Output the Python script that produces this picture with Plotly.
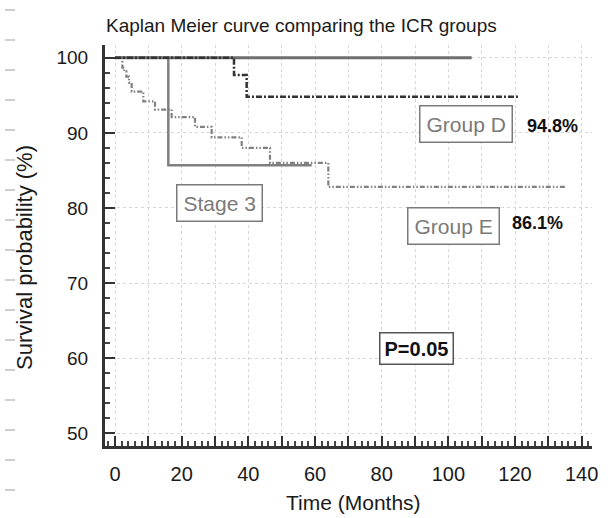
import plotly.graph_objects as go

# ---------------- data ----------------
top_time = [0, 107]
top_surv = [100, 100]

stage3_time = [0, 16, 59]
stage3_surv = [100, 85.7, 85.7]

groupD_time = [0, 35.7, 39.5, 121]
groupD_surv = [100, 97.7, 94.8, 94.8]

groupE_time = [0, 2.2, 2.8, 3.4, 4.2, 5, 8.5, 12, 17, 24, 29, 38, 46.5, 64, 135.5]
groupE_surv = [100, 98.7, 98.2, 97.5, 96.7, 95.5, 94.2, 93.1, 92.1, 90.8, 89.4, 88.0, 86.0, 82.8, 82.8]

x_tickvals = [0, 10, 20, 30, 40, 50, 60, 70, 80, 90, 100, 110, 120, 130, 140]
x_ticktext = ["0", "", "20", "", "40", "", "60", "", "80", "", "100", "", "120", "", "140"]
y_tickvals = [50, 60, 70, 80, 90, 100]

title_text = "Kaplan Meier curve comparing the ICR groups"
x_title = "Time (Months)"
y_title = "Survival probability (%)"

# ---------------- figure ----------------
fig = go.Figure()

fig.add_trace(go.Scatter(x=groupE_time, y=groupE_surv, mode="lines", line_shape="hv",
                         name="Group E",
                         line=dict(color="#808080", width=2.2, dash="5px,2px,1.5px,2px,1.5px,2px")))
fig.add_trace(go.Scatter(x=stage3_time, y=stage3_surv, mode="lines", line_shape="hv",
                         name="Stage 3", line=dict(color="#808080", width=2.5)))
fig.add_trace(go.Scatter(x=top_time, y=top_surv, mode="lines", line_shape="hv",
                         name="Other", line=dict(color="#6e6e6e", width=3)))
fig.add_trace(go.Scatter(x=groupD_time, y=groupD_surv, mode="lines", line_shape="hv",
                         name="Group D",
                         line=dict(color="#333333", width=2.5, dash="6px,2px,2px,2px")))

font_main = "Liberation Sans, Arial, sans-serif"
font_narrow = "Liberation Sans Narrow, Arial Narrow, Liberation Sans, Arial, sans-serif"

fig.update_layout(
    width=610, height=518,
    margin=dict(l=105, r=18, t=45, b=72),
    paper_bgcolor="white", plot_bgcolor="white",
    showlegend=False,
    font=dict(family=font_main, color="#1a1a1a"),
)

fig.update_xaxes(
    range=[-3, 143.1],
    tickmode="array", tickvals=x_tickvals, ticktext=x_ticktext,
    ticks="inside", ticklen=10, tickwidth=2, tickcolor="#333",
    minor=dict(dtick=2, ticks="inside", ticklen=5, tickwidth=1.5, tickcolor="#444", showgrid=False),
    showline=True, linecolor="#333", linewidth=3,
    showgrid=True, gridcolor="#d6d6d6", gridwidth=1, griddash="dot",
    zeroline=False,
    tickfont=dict(size=20, color="#1a1a1a"),
    ticklabelstandoff=8,
)
fig.update_yaxes(
    range=[48.3, 101.7],
    tickmode="array", tickvals=y_tickvals,
    ticks="inside", ticklen=10, tickwidth=2, tickcolor="#333",
    minor=dict(dtick=2, ticks="inside", ticklen=5, tickwidth=1.5, tickcolor="#444", showgrid=False),
    showline=True, linecolor="#333", linewidth=3,
    showgrid=True, gridcolor="#d6d6d6", gridwidth=1, griddash="dot",
    zeroline=False,
    tickfont=dict(size=19, color="#1a1a1a"),
    ticklabelstandoff=10,
)

annotations = [
    dict(text=title_text, xref="paper", yref="paper", x=(301 - 105) / 487, y=1 + (45 - 25) / 401,
         xanchor="center", yanchor="middle", showarrow=False, font=dict(size=19, color="#1a1a1a")),
    dict(text=x_title, xref="paper", yref="paper", x=(353 - 105) / 487, y=-(503 - 446) / 401,
         xanchor="center", yanchor="middle", showarrow=False, font=dict(size=21, color="#1a1a1a")),
    dict(text=y_title, xref="paper", yref="paper", x=-(105 - 24) / 487, y=(446 - 258) / 401,
         xanchor="center", yanchor="middle", showarrow=False, textangle=-90,
         font=dict(size=22, color="#1a1a1a")),
    dict(text="Stage 3", x=31.2, y=80.6, xanchor="center", yanchor="middle", showarrow=False,
         font=dict(size=21, color="#7a7a7a"), bordercolor="#7a7a7a", borderwidth=1.5, borderpad=6,
         bgcolor="white"),
    dict(text="Group D", x=105.2, y=91.2, xanchor="center", yanchor="middle", showarrow=False,
         font=dict(size=21, color="#7a7a7a"), bordercolor="#7a7a7a", borderwidth=1.5, borderpad=6,
         bgcolor="white"),
    dict(text="Group E", x=101.6, y=77.6, xanchor="center", yanchor="middle", showarrow=False,
         font=dict(size=21, color="#7a7a7a"), bordercolor="#7a7a7a", borderwidth=1.5, borderpad=6,
         bgcolor="white"),
    dict(text="<b>94.8%</b>", x=131.1, y=90.9, xanchor="center", yanchor="middle", showarrow=False,
         font=dict(size=18, color="#111", family=font_narrow)),
    dict(text="<b>86.1%</b>", x=126.6, y=78.0, xanchor="center", yanchor="middle", showarrow=False,
         font=dict(size=18, color="#111", family=font_narrow)),
    dict(text="<b>P=0.05</b>", x=90.3, y=61.3, xanchor="center", yanchor="middle", showarrow=False,
         font=dict(size=20, color="#111"), bordercolor="#555", borderwidth=1.5, borderpad=4,
         bgcolor="white"),
]
fig.update_layout(annotations=annotations)

# faint scanning marks along the left edge
shapes = []
for i in range(17):
    ypix = 10 + 30 * i
    shapes.append(dict(type="line", xref="paper", yref="paper",
                       x0=-(105 - 5) / 487, x1=-(105 - 15) / 487,
                       y0=(446 - ypix) / 401, y1=(446 - ypix) / 401,
                       line=dict(color="#cfcfcf", width=2)))
fig.update_layout(shapes=shapes)

fig.write_html("out.html", config={"displayModeBar": False},
               post_script="document.body.style.margin='0';document.body.style.padding='0';")
